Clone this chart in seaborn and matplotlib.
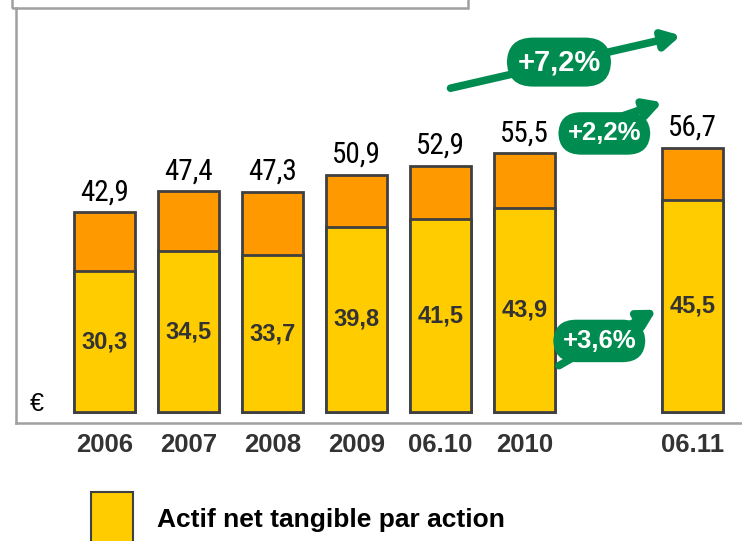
import numpy as np
import matplotlib.pyplot as plt
import seaborn as sns
import pandas as pd
from matplotlib.patches import Rectangle
from matplotlib import font_manager

# Data
periods = ['2006', '2007', '2008', '2009', '06.10', '2010', '06.11']
positions = [0, 1, 2, 3, 4, 5, 7]
tangible = [30.3, 34.5, 33.7, 39.8, 41.5, 43.9, 45.5]
total = [42.9, 47.4, 47.3, 50.9, 52.9, 55.5, 56.7]
growth_labels = ['+7,2%', '+2,2%', '+3,6%']

df = pd.DataFrame({'pos': positions, 'tangible': tangible, 'total': total})

yellow = '#FFCC00'
orange = '#FF9900'
green = '#008C50'
edge = '#404040'

sns.set_style("white")
plt.rcParams['font.family'] = ['Liberation Sans', 'DejaVu Sans']

# narrow font for the totals if one is installed
names = {f.name for f in font_manager.fontManager.ttflist}
narrow = None
for cand in ['Liberation Sans Narrow', 'Roboto Condensed', 'Open Sans Condensed']:
    if cand in names:
        narrow = cand
        break

fig = plt.figure(figsize=(7.42, 5.41), dpi=100)
ax = fig.add_axes([16 / 742, 118 / 541, 727 / 742, 415 / 541])

# total bar (orange) then tangible part (yellow) on top of it
sns.barplot(data=df, x='pos', y='total', native_scale=True, color=orange,
            saturation=1, width=0.73, edgecolor=edge, linewidth=2, ax=ax)
sns.barplot(data=df, x='pos', y='tangible', native_scale=True, color=yellow,
            saturation=1, width=0.73, edgecolor=edge, linewidth=2, ax=ax)

for x, t, b in zip(positions, total, tangible):
    if narrow:
        ax.text(x, t + 1.3, f"{t:.1f}".replace('.', ','), ha='center', va='bottom',
                fontsize=21, family=narrow, color='black')
    else:
        ax.text(x, t + 1.3, f"{t:.1f}".replace('.', ','), ha='center', va='bottom',
                fontsize=18, color='black')
    ax.text(x, b / 2, f"{b:.1f}".replace('.', ','), ha='center', va='center',
            fontsize=17, fontweight='bold', color='#333333')

ax.set_xlim(-1.05, 7.6)
ax.set_ylim(-2.3, 86.7)
ax.set_xticks(positions)
ax.set_xticklabels(periods, fontsize=18.5, fontweight='bold', color='#333333')
ax.set_yticks([])
ax.set_xlabel('')
ax.set_ylabel('')
ax.tick_params(axis='x', length=0, pad=7)

for s in ['top', 'right']:
    ax.spines[s].set_visible(False)
for s in ['left', 'bottom']:
    ax.spines[s].set_color('#A0A0A0')
    ax.spines[s].set_linewidth(1.8)

ax.text(-0.8, 1.8, '€', fontsize=18, ha='center', va='center', color='black')

# growth arrows
arrows = [((4.12, 69.5), (6.86, 80.8), (5.41, 75.1), 21),
          ((5.47, 59.2), (6.64, 66.5), (5.95, 59.8), 18.5),
          ((5.41, 10.0), (6.57, 22.0), (5.89, 15.3), 18.5)]
for (start, end, mid, fs), lab in zip(arrows, growth_labels):
    ax.annotate('', xy=end, xytext=start,
                arrowprops=dict(arrowstyle='-|>,head_length=1.0,head_width=0.55',
                                lw=5.5, color=green, shrinkA=0, shrinkB=0))
    ax.text(mid[0], mid[1], lab, ha='center', va='center', fontsize=fs,
            fontweight='bold', color='white',
            bbox=dict(boxstyle='round,pad=0.36,rounding_size=0.9', fc=green, ec='none'))

# top panel frame
fig.patches.append(Rectangle((12 / 742, 533 / 541), 456 / 742, 20 / 541,
                             transform=fig.transFigure, fill=False,
                             edgecolor='#A0A0A0', lw=1.8))

# legend
fig.patches.append(Rectangle((91 / 742, -10 / 541), 42 / 742, 59 / 541,
                             transform=fig.transFigure, facecolor=yellow,
                             edgecolor=edge, lw=1.5))
fig.text(157 / 742, 21 / 541, 'Actif net tangible par action', fontsize=19,
         fontweight='bold', color='black', va='center', ha='left')

fig.savefig('out.png', dpi=100)
